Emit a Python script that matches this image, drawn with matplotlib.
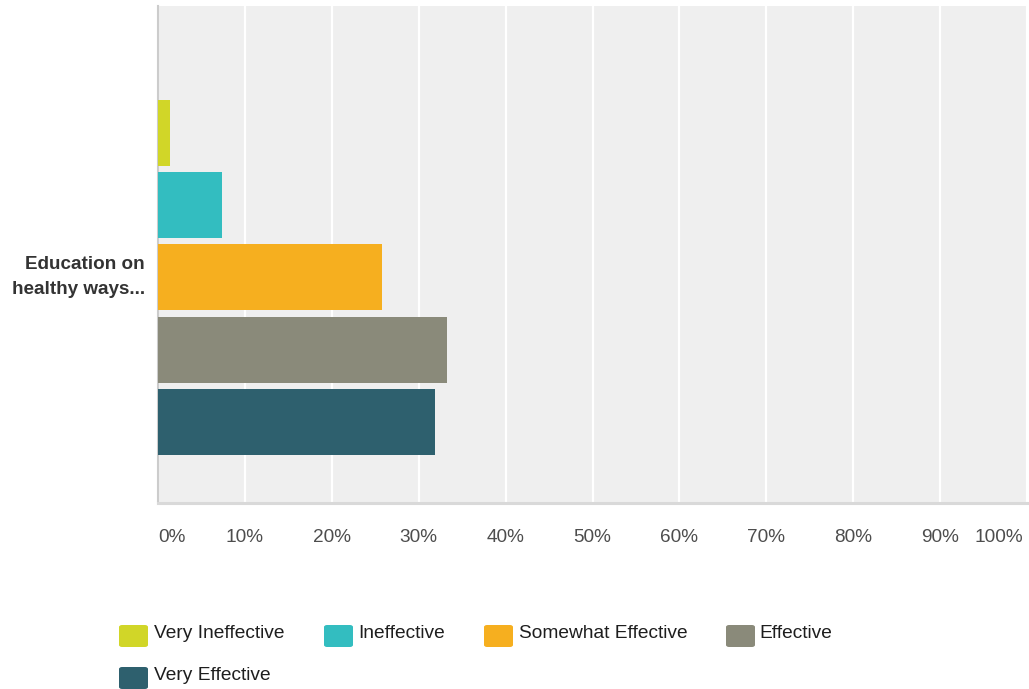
import numpy as np
import matplotlib.pyplot as plt
from matplotlib.patches import FancyBboxPatch

# dati
question = "Education on\nhealthy ways..."
answers = ["Very Ineffective", "Ineffective", "Somewhat Effective", "Effective", "Very Effective"]
percent = [1.4, 7.4, 25.8, 33.3, 31.9]
colors = ["#d1d628", "#33bdc0", "#f6af1f", "#8a8a7a", "#2e606e"]
xticks = [0, 10, 20, 30, 40, 50, 60, 70, 80, 90, 100]

plt.rcParams['font.family'] = ['Liberation Sans', 'DejaVu Sans']

W, H = 1029, 689
fig = plt.figure(figsize=(W / 100, H / 100), dpi=100)
ax = fig.add_axes([158 / W, 1 - 503 / H, (1027 - 158) / W, (503 - 6) / H])
ax.set_facecolor("#efefef")

# barre orizzontali, una per risposta
pos = np.arange(len(answers)) - 2
ax.barh(pos, percent, height=0.91, color=colors, zorder=3)

ax.set_xlim(0, 100)
ax.set_ylim(3.12, -3.75)

# etichette asse x scritte a mano: la prima e l'ultima restano dentro la figura
ax.set_xticks(xticks)
ax.set_xticklabels([])
ax.tick_params(axis="x", length=0)
for t in xticks:
    ha, dx = "center", 0
    if t == xticks[0]:
        ha = "left"
    elif t == xticks[-1]:
        ha, dx = "right", -4
    ax.annotate(f"{t}%", xy=(t, 0), xycoords=("data", "axes fraction"),
                xytext=(dx * 0.72, -35 * 0.72), textcoords="offset points",
                ha=ha, va="center", fontsize=13.7, color="#4d4d4d")

ax.set_yticks([])
ax.annotate(question, xy=(0, 0), xycoords=("axes fraction", "data"),
            xytext=(-13 * 0.72, 0), textcoords="offset points",
            ha="right", va="center", fontsize=13.6, fontweight="bold",
            color="#333333", linespacing=1.62)

ax.grid(axis="x", color="white", linewidth=1.6, zorder=1)
ax.set_axisbelow(True)

for s in ["top", "right"]:
    ax.spines[s].set_visible(False)
ax.spines["left"].set_color("#cccccc")
ax.spines["left"].set_linewidth(1.5)
ax.spines["bottom"].set_color("#d9d9d9")
ax.spines["bottom"].set_linewidth(2.2)

# legenda fatta a mano (quadratini arrotondati)
leg_x = [119, 324, 484, 726, 119]
leg_y = [625, 625, 625, 625, 667]
leg_tx = [154, 358, 519, 759, 154]
for name, col, lx, ly, tx in zip(answers, colors, leg_x, leg_y, leg_tx):
    box = FancyBboxPatch((lx / W, 1 - (ly + 22) / H), 29 / W, 22 / H,
                         boxstyle="round,pad=0,rounding_size=0.003",
                         transform=fig.transFigure, facecolor=col,
                         edgecolor="none")
    fig.add_artist(box)
    fig.text(tx / W, 1 - (ly + 13) / H, name, fontsize=13.8,
             color="#1e1e1e", va="baseline", ha="left")

plt.savefig("out.png", dpi=100)
